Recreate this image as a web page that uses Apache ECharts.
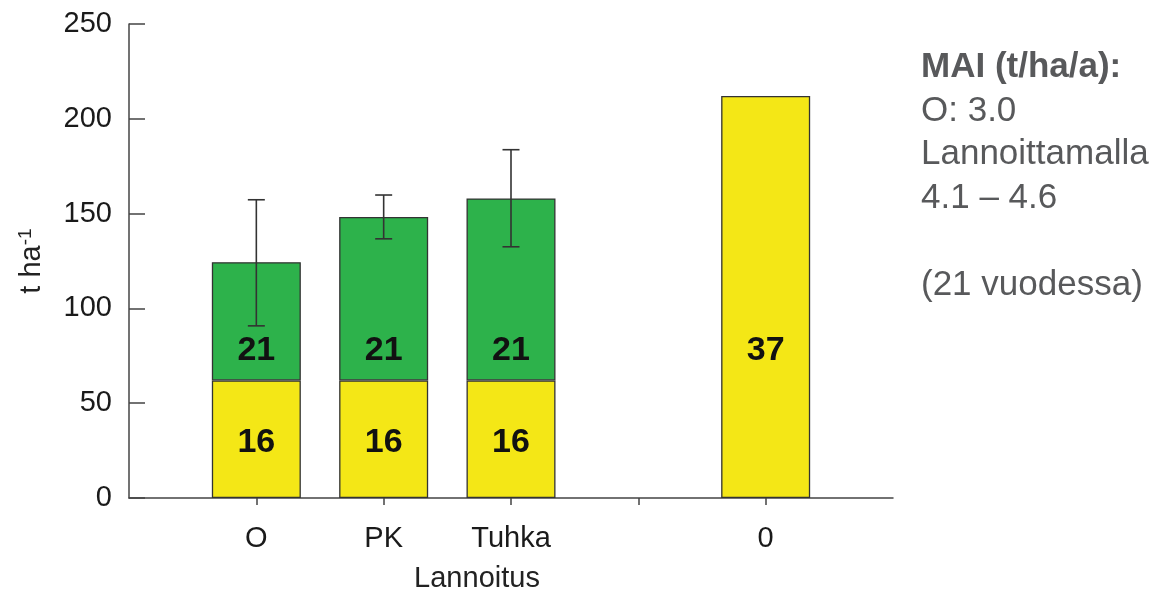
<!DOCTYPE html>
<html>
<head>
<meta charset="utf-8">
<script src="https://cdn.jsdelivr.net/npm/echarts@6/dist/echarts.min.js"></script>
<style>html,body{margin:0;padding:0;background:#fff}#c{width:1170px;height:592px}</style>
</head>
<body>
<div id="c"></div>
<script>
// ---- data ----
// axis slots: empty slot at each end and a gap slot between 'Tuhka' and '0'
const categories = ['', 'O', 'PK', 'Tuhka', '', '0', ''];
const tickSlots = [1, 2, 3, 4, 5];
const baseValues = ['-', 62, 62, 62, '-', 212, '-'];        // yellow part (t/ha)
const greenValues = ['-', 62.4, 86.2, 96, '-', '-', '-'];   // green part stacked on top
const errLow = ['-', 90.8, 136.7, 132.5, '-', '-', '-'];
const errHigh = ['-', 157.3, 159.8, 183.7, '-', '-', '-'];
const baseLabels = ['', '16', '16', '16', '', '37', ''];
const greenLabels = ['', '21', '21', '21', '', '', ''];
const yTicks = [0, 50, 100, 150, 200, 250];
const sideText = ['MAI (t/ha/a):', 'O: 3.0', 'Lannoittamalla', '4.1 \u2013 4.6', '', '(21 vuodessa)'];

const FONT = '"Liberation Sans", Arial, sans-serif';
const chart = echarts.init(document.getElementById('c'));

const labelStyle = { color: '#111', fontSize: 34, fontWeight: 'bold', fontFamily: FONT };

const yellowData = baseValues.map((v, i) => {
  const item = { value: v };
  if (greenValues[i] === '-' && v !== '-') {
    item.label = { position: 'insideBottom', distance: 130 };
  }
  return item;
});
const errData = errLow.map((lo, i) => lo === '-' ? [i, '-', '-'] : [i, lo, errHigh[i]]);

chart.setOption({
  animation: false,
  grid: { left: 129, right: 277, top: 24, bottom: 94, containLabel: false, outerBoundsMode: 'none' },
  xAxis: {
    type: 'category', data: categories, boundaryGap: false,
    name: 'Lannoitus', nameLocation: 'middle', nameGap: 66,
    nameTextStyle: { fontSize: 29, color: '#222', fontFamily: FONT, padding: [0, 68, 0, 0] },
    axisLine: { show: true, lineStyle: { color: '#444', width: 1.5 } },
    axisTick: { show: true, interval: (i) => tickSlots.includes(i), length: 7, lineStyle: { color: '#444', width: 1.5 } },
    axisLabel: { interval: 0, margin: 26, fontSize: 29, color: '#1a1a1a', fontFamily: FONT },
    splitLine: { show: false }
  },
  yAxis: {
    type: 'value', min: 0, max: 250, interval: 50,
    name: '{a|t ha}{s|-1}', nameLocation: 'middle', nameGap: 82,
    nameTextStyle: {
      fontFamily: FONT, color: '#222',
      rich: {
        a: { fontSize: 29, fontFamily: FONT, color: '#222' },
        s: { fontSize: 19, fontFamily: FONT, color: '#222', verticalAlign: 'top', padding: [0, 0, 12, 0] }
      }
    },
    axisLine: { show: true, lineStyle: { color: '#444', width: 1.5 } },
    axisTick: { show: true, inside: true, length: 16, lineStyle: { color: '#444', width: 1.5 } },
    axisLabel: { margin: 17, fontSize: 29, color: '#1a1a1a', fontFamily: FONT,
      formatter: v => yTicks.includes(v) ? String(v) : '' },
    splitLine: { show: false }
  },
  series: [
    {
      type: 'bar', stack: 'total', barWidth: 89,
      itemStyle: { color: '#F4E716', borderColor: '#333', borderWidth: 1.3 },
      label: Object.assign({ show: true, position: 'insideBottom', distance: 38,
        formatter: p => baseLabels[p.dataIndex] }, labelStyle),
      data: yellowData
    },
    {
      type: 'bar', stack: 'total', barWidth: 89,
      itemStyle: { color: '#2DB24B', borderColor: '#333', borderWidth: 1.3 },
      label: Object.assign({ show: true, position: 'insideBottom', distance: 13,
        formatter: p => greenLabels[p.dataIndex] }, labelStyle),
      data: greenValues
    },
    {
      type: 'custom', z: 10,
      renderItem: (params, api) => {
        const x = api.value(0);
        const lo = api.coord([x, api.value(1)]);
        const hi = api.coord([x, api.value(2)]);
        const half = 8.5;
        const st = { stroke: '#333', lineWidth: 1.6 };
        return {
          type: 'group',
          children: [
            { type: 'line', shape: { x1: lo[0], y1: lo[1], x2: hi[0], y2: hi[1] }, style: st },
            { type: 'line', shape: { x1: hi[0] - half, y1: hi[1], x2: hi[0] + half, y2: hi[1] }, style: st },
            { type: 'line', shape: { x1: lo[0] - half, y1: lo[1], x2: lo[0] + half, y2: lo[1] }, style: st }
          ]
        };
      },
      encode: { x: 0, y: [1, 2] },
      data: errData
    }
  ],
  graphic: [{
    type: 'text', left: 921, top: 50,
    style: {
      text: sideText.map((t, i) => i === 0 ? '{b|' + t + '}' : '{n|' + (t || ' ') + '}').join('\n'),
      rich: {
        b: { fontSize: 35, fontWeight: 'bold', fontFamily: FONT, fill: '#58595B', lineHeight: 43.5 },
        n: { fontSize: 35, fontFamily: FONT, fill: '#58595B', lineHeight: 43.5 }
      }
    }
  }]
});
</script>
</body>
</html>
